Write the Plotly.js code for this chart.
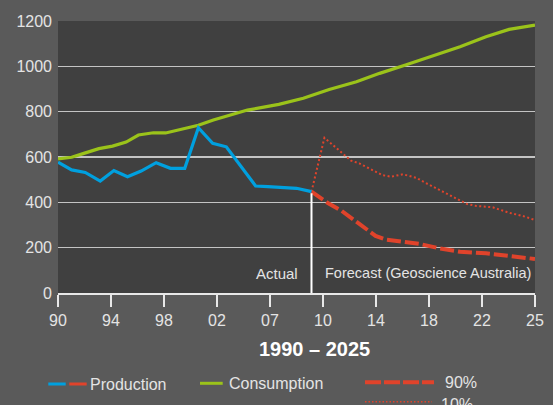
<!DOCTYPE html>
<html>
<head>
<meta charset="utf-8">
<script src="https://cdn.plot.ly/plotly-3.0.1.min.js"></script>
<style>html,body{margin:0;padding:0;background:#5a5a5a;}#chart{width:553px;height:405px;}</style>
</head>
<body>
<div id="chart"></div>
<script>
// ---- data ----
var prodYears = [1990.0, 1991.0, 1992.0, 1993.1, 1994.1, 1995.1, 1996.1, 1997.2, 1998.25, 1999.3, 2000.3, 2001.35, 2002.35, 2004.5, 2005.4, 2007.5, 2008.6];
var prodVals  = [577, 543, 532, 494, 540, 513, 538, 575, 550, 550, 729, 660, 645, 472, 469, 462, 447];

var consYears = [1990.0, 1991.0, 1991.9, 1993.0, 1994.0, 1995.0, 1995.9, 1997.0, 1997.9, 1999.0, 2000.3, 2001.4, 2002.6, 2003.9, 2005.0, 2006.2, 2008.0, 2009.9, 2011.9, 2013.6, 2015.5, 2017.5, 2019.5, 2021.4, 2023.1, 2025.0];
var consVals  = [592, 599, 616, 637, 648, 666, 697, 707, 706, 722, 740, 763, 785, 807, 819, 832, 859, 898, 932, 969, 1006, 1045, 1086, 1131, 1163, 1182];

var fc90Years = [2008.6, 2009.8, 2010.8, 2012.1, 2013.3, 2014.1, 2015.2, 2016.5, 2018.0, 2019.5, 2021.4, 2023.1, 2025.0];
var fc90Vals  = [447, 397, 363, 307, 252, 235, 226, 217, 197, 182, 175, 163, 150];

var fc10Years = [2008.6, 2009.55, 2011.5, 2012.1, 2013.8, 2014.45, 2015.3, 2016.3, 2016.9, 2018.0, 2019.1, 2020.0, 2020.7, 2021.9, 2023.1, 2024.1, 2025.0];
var fc10Vals  = [447, 685, 584, 572, 520, 513, 524, 508, 488, 454, 418, 393, 384, 378, 354, 340, 322];

var xTickLabels = ["90", "94", "98", "02", "07", "10", "14", "18", "22", "25"];
var yTickVals = [0, 200, 400, 600, 800, 1000, 1200];
var forecastStart = 2008.6;
var titleText = "1990 \u2013 2025";
var legendLabels = ["Production", "Consumption", "90%", "10%"];

// ---- colours ----
var BLUE = "#00a0df", GREEN = "#9bc31a", RED = "#e0432b", TXT = "#e4e4e4";
var FONT = "Liberation Sans, Arial, sans-serif";

var xTickVals = xTickLabels.map(function (_, i) { return 1990 + i * 35 / (xTickLabels.length - 1); });

// layout helpers: pixel -> paper coordinates of the plot domain
var L = 58, R = 535, T = 21, B = 293;
function px(x) { return (x - L) / (R - L); }
function py(y) { return (B - y) / (B - T); }

var traces = [
  { x: consYears, y: consVals, mode: "lines", line: { color: GREEN, width: 3.2 }, hoverinfo: "none" },
  { x: fc10Years, y: fc10Vals, mode: "lines", line: { color: RED, width: 2, dash: "2px,2.5px" }, hoverinfo: "none" },
  { x: fc90Years, y: fc90Vals, mode: "lines", line: { color: RED, width: 4, dash: "14px,4px" }, hoverinfo: "none" },
  { x: prodYears, y: prodVals, mode: "lines", line: { color: BLUE, width: 3.2 }, hoverinfo: "none" }
];

function seg(x0, x1, y, color, w, dash) {
  return { type: "line", xref: "paper", yref: "paper", x0: px(x0), x1: px(x1), y0: py(y), y1: py(y),
           line: { color: color, width: w, dash: dash || "solid" } };
}
function txt(t, x, y, anchor, size, opts) {
  var a = { text: t, xref: "paper", yref: "paper", x: px(x), y: py(y), xanchor: anchor, yanchor: "middle",
            showarrow: false, font: { family: FONT, size: size, color: TXT } };
  if (opts) for (var k in opts) a[k] = opts[k];
  return a;
}

var shapes = [
  { type: "line", xref: "x", yref: "y", x0: forecastStart, x1: forecastStart, y0: 0, y1: 440,
    line: { color: "#ffffff", width: 2 }, layer: "above" },
  seg(48.3, 65.7, 384, BLUE, 3),
  seg(69.3, 86.7, 384, RED, 3),
  seg(200, 222.7, 383.3, GREEN, 3),
  seg(365, 434, 382.3, RED, 4, "16px,3px"),
  seg(365, 432, 401.7, RED, 1.5, "1.5px,2px")
];

var annotations = [
  txt("Actual", 300, 273, "right", 15),
  txt("Forecast (Geoscience Australia)", 323, 273, "left", 14.5),
  { text: "<b>" + titleText + "</b>", xref: "paper", yref: "paper", x: px(314), y: py(349), xanchor: "center", yanchor: "middle",
    showarrow: false, font: { family: FONT, size: 20, color: "#ffffff" } },
  txt(legendLabels[0], 88, 384, "left", 16),
  txt(legendLabels[1], 227, 383, "left", 16),
  txt(legendLabels[2], 443, 382, "left", 16),
  txt(legendLabels[3], 439, 404, "left", 16)
];

var layout = {
  width: 553, height: 405,
  margin: { l: L, r: 553 - R, t: T, b: 405 - B, pad: 0 },
  paper_bgcolor: "#5a5a5a",
  plot_bgcolor: "#404040",
  showlegend: false,
  font: { family: FONT, color: TXT },
  xaxis: {
    range: [1990, 2025], tickmode: "array", tickvals: xTickVals, ticktext: xTickLabels,
    showgrid: false, zeroline: false, showline: true, linecolor: "#e8e8e8", linewidth: 2,
    ticks: "outside", ticklen: 12, tickwidth: 2, tickcolor: "#e8e8e8",
    tickfont: { family: FONT, size: 16, color: TXT }, fixedrange: true
  },
  yaxis: {
    range: [0, 1200], tickmode: "array", tickvals: yTickVals,
    showgrid: true, gridcolor: "#c4c4c4", gridwidth: 1.5, zeroline: false, showline: false,
    ticks: "", ticklabelstandoff: 5,
    tickfont: { family: FONT, size: 16, color: TXT }, fixedrange: true
  },
  shapes: shapes,
  annotations: annotations
};

Plotly.newPlot("chart", traces, layout, { displayModeBar: false, staticPlot: true });
</script>
</body>
</html>
